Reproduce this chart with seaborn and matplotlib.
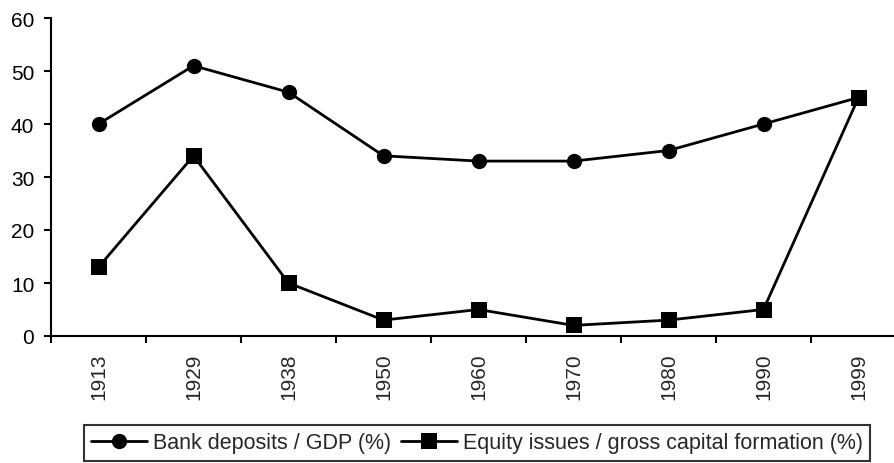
import pandas as pd
import matplotlib.pyplot as plt
import seaborn as sns

# dados
years = ['1913', '1929', '1938', '1950', '1960', '1970', '1980', '1990', '1999']
bank_deposits = [40, 51, 46, 34, 33, 33, 35, 40, 45]
equity_issues = [13, 34, 10, 3, 5, 2, 3, 5, 45]

label_bank = 'Bank deposits / GDP (%)'
label_equity = 'Equity issues / gross capital formation (%)'

df = pd.DataFrame({
    'pos': list(range(len(years))) * 2,
    'value': bank_deposits + equity_issues,
    'serie': [label_bank] * len(years) + [label_equity] * len(years),
})

sns.set_style('ticks')
plt.rcParams['font.family'] = ['Liberation Sans', 'DejaVu Sans']

fig = plt.figure(figsize=(8.95, 4.64), dpi=100)
ax = fig.add_axes([51 / 895, 1 - 337 / 464, (906 - 51) / 895, (337 - 19) / 464])

sns.lineplot(data=df, x='pos', y='value', hue='serie', style='serie',
             palette=['black', 'black'], markers=['o', 's'], dashes=False,
             linewidth=2, markersize=11, markeredgewidth=0, ax=ax)

ax.set_xlim(-0.5, len(years) - 0.5)
ax.set_ylim(0, 60)
ax.set_yticks(range(0, 61, 10))
ax.tick_params(axis='y', labelsize=15, length=5, width=1.5, pad=7, colors='black')

# rótulos no centro, ticks entre as categorias (estilo Excel)
ax.set_xticks(range(len(years)))
ax.set_xticklabels(years, rotation=90, fontsize=15)
ax.tick_params(axis='x', which='major', length=0, pad=12)
ax.set_xticks([i + 0.5 for i in range(-1, len(years))], minor=True)
ax.tick_params(axis='x', which='minor', length=5, width=1.5, color='black')
ax.set_xlabel('')
ax.set_ylabel('')

for side in ['left', 'bottom']:
    ax.spines[side].set_linewidth(1.5)
    ax.spines[side].set_color('black')
sns.despine(ax=ax)

handles, labels = ax.get_legend_handles_labels()
ax.legend_.remove()
leg = fig.legend(handles, labels, loc='center', bbox_to_anchor=(477 / 895, 1 - 444 / 464),
                 ncol=2, fontsize=15.5, frameon=True, fancybox=False, edgecolor='black',
                 handlelength=2.6, handletextpad=0.25, columnspacing=0.5,
                 borderpad=0.35, borderaxespad=0)
leg.get_frame().set_linewidth(1.5)

plt.savefig('out.png', dpi=100)
